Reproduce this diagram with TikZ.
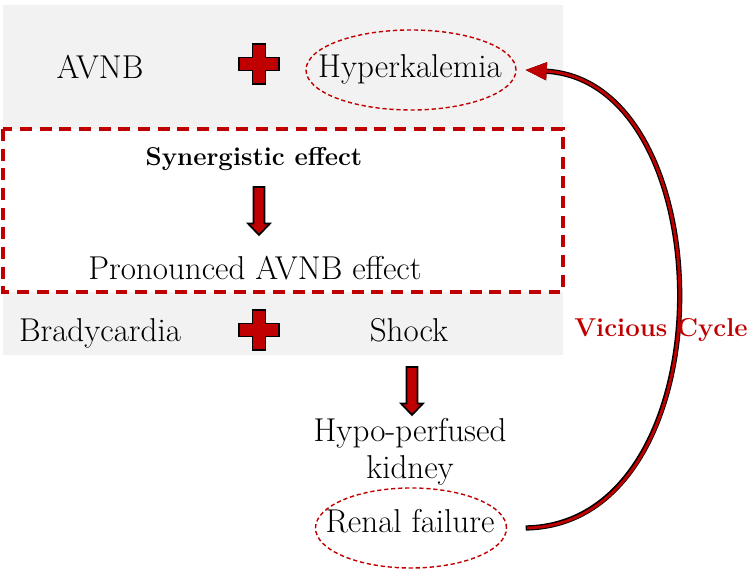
\documentclass[tikz,border=0pt]{standalone}
\usepackage{fontspec}
\usetikzlibrary{arrows.meta,shapes.geometric}

\definecolor{vcred}{RGB}{192,0,0}
\definecolor{panelgray}{RGB}{242,242,242}

\tikzset{
  lbl/.style={font=\fontsize{18.8}{21}\selectfont, inner sep=0pt},
  boldlbl/.style={font=\fontsize{14.7}{18}\selectfont\bfseries, inner sep=0pt},
  ring/.style={ellipse, draw=vcred, line width=0.8pt, dash pattern=on 2.4pt off 1.6pt, inner sep=0pt},
  dashbox/.style={draw=vcred, fill=white, line width=1.8pt, dash pattern=on 6.8pt off 4.4pt},
  tipshape/.style={-{Triangle[length=0.42cm, width=0.36cm, line width=0.7pt, fill=vcred]}},
  redplus/.pic={
    \draw[fill=vcred, line width=1pt] (-0.13,0.4) -- (0.13,0.4) -- (0.13,0.13) -- (0.4,0.13)
      -- (0.4,-0.13) -- (0.13,-0.13) -- (0.13,-0.4) -- (-0.13,-0.4) -- (-0.13,-0.13)
      -- (-0.4,-0.13) -- (-0.4,0.13) -- (-0.13,0.13) -- cycle;
  },
  downarr/.pic={
    \draw[fill=vcred, line width=1pt] (-0.11,0) -- (0.11,0) -- (0.11,-0.73) -- (0.22,-0.73)
      -- (0,-0.96) -- (-0.22,-0.73) -- (-0.11,-0.73) -- cycle;
  }
}

\begin{document}
\begin{tikzpicture}
  \useasboundingbox (0,0) rectangle (15,11.44);

  % Gray panel and dashed box
  \fill[panelgray] (0.06,11.34) rectangle (11.26,4.34);
  \draw[dashbox] (0.06,8.86) rectangle (11.26,5.6);

  % First row
  \node[lbl, anchor=base] (avnb) at (2.0,9.86) {AVNB};
  \pic at (5.18,10.16) {redplus};
  \node[lbl, anchor=base] (hyper) at (8.2,9.88) {Hyperkalemia};
  \node[ring, minimum width=4.2cm, minimum height=1.6cm] (hyperring) at (8.22,10.04) {};

  % Inside the dashed box
  \node[boldlbl, anchor=base] (syn) at (5.08,8.12) {Synergistic effect};
  \pic at (5.18,7.7) {downarr};
  \node[lbl, anchor=base] (pron) at (5.1,5.84) {Pronounced AVNB effect};

  % Second row
  \node[lbl, anchor=base] (brady) at (2.0,4.6) {Bradycardia};
  \pic at (5.18,4.84) {redplus};
  \node[lbl, anchor=base] (shock) at (8.18,4.6) {Shock};

  % Below the panel
  \pic at (8.24,4.1) {downarr};
  \node[lbl, align=center] (kidney) at (8.2,2.4) {Hypo-perfused\\kidney};
  \node[lbl, anchor=base] (renal) at (8.2,0.78) {Renal failure};
  \node[ring, minimum width=3.82cm, minimum height=1.6cm] (renalring) at (8.22,0.88) {};

  % Vicious cycle arrow
  \draw[tipshape, line width=3pt] ([xshift=0.37cm]renalring.east)
    .. controls (14.6,0.95) and (14.5,9.8) .. ([xshift=0.18cm]hyperring.east);
  \draw[tipshape, vcred, line width=1.6pt, shorten <=0.7pt] ([xshift=0.37cm]renalring.east)
    .. controls (14.6,0.95) and (14.5,9.8) .. ([xshift=0.18cm]hyperring.east);
  \node[boldlbl, text=vcred, anchor=base] (cycle) at (13.22,4.7) {Vicious Cycle};
\end{tikzpicture}
\end{document}
